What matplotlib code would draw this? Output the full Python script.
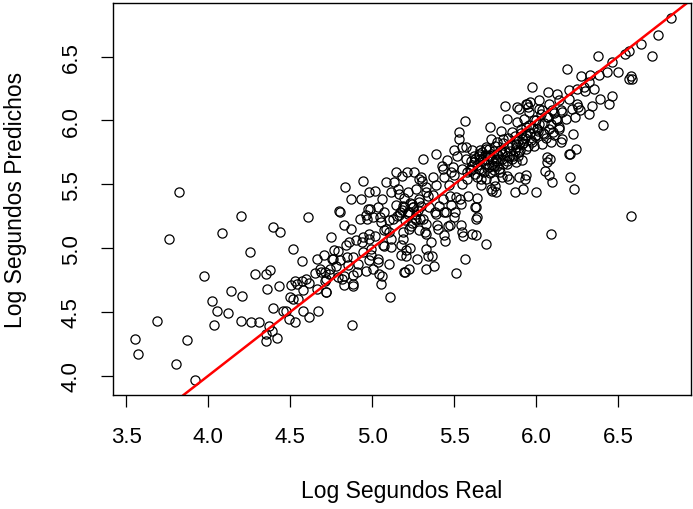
import matplotlib
matplotlib.use('Agg')
import matplotlib.pyplot as plt
import numpy as np

plt.rcParams['font.family'] = ['Liberation Sans', 'DejaVu Sans']

# (log real seconds, log predicted seconds)
sparse_pts = [
    (3.554, 4.287), (3.573, 4.175), (3.688, 4.431), (3.823, 5.442), (3.761, 5.071),
    (3.804, 4.091), (3.869, 4.282), (3.922, 3.969), (3.976, 4.779), (4.025, 4.583),
    (4.033, 4.397), (4.057, 4.509), (4.084, 5.115), (4.121, 4.491), (4.138, 4.661),
    (4.200, 5.254), (4.208, 4.627), (4.200, 4.431), (4.256, 4.967), (4.259, 4.418),
    (4.286, 4.797), (4.312, 4.418), (4.350, 4.797), (4.380, 4.831), (4.361, 4.684),
    (4.393, 5.162), (4.436, 5.129), (4.393, 4.535), (4.374, 4.392), (4.355, 4.274),
    (4.420, 4.300), (4.388, 4.353), (4.434, 4.705), (4.455, 4.509), (4.477, 4.509),
    (4.517, 4.993), (4.530, 4.418), (4.495, 4.444), (4.504, 4.711), (4.541, 4.718),
    (4.517, 4.601), (4.549, 4.601), (4.571, 4.744), (4.571, 4.901), (4.576, 4.509),
    (4.608, 5.241), (4.616, 4.457), (4.616, 4.731), (4.649, 4.803), (4.665, 4.914),
    (4.670, 4.509), (4.665, 4.679), (4.719, 4.658), (4.711, 4.744), (4.711, 4.810),
    (4.684, 4.836), (4.751, 5.084), (4.756, 4.914), (4.738, 4.797), (4.778, 4.862),
    (4.791, 4.980), (4.797, 5.293), (4.805, 5.280), (4.832, 5.476), (4.826, 4.784),
    (4.818, 4.758), (4.845, 4.927), (4.859, 5.050), (4.872, 5.385), (4.872, 5.149),
    (4.886, 4.705), (4.880, 4.397), (4.907, 4.810), (4.926, 5.228), (4.934, 5.385),
    (4.939, 5.045), (4.945, 5.528), (4.966, 5.228), (4.980, 5.442), (4.988, 5.306),
    (4.980, 5.071), (4.993, 4.946), (5.007, 4.836), (5.015, 5.450), (5.020, 5.097),
    (5.034, 4.914), (5.047, 5.241), (5.052, 4.718), (5.060, 5.385), (5.063, 4.784),
    (5.074, 5.019), (5.087, 5.149), (5.101, 5.123), (5.106, 4.614), (5.114, 5.006),
    (5.128, 5.228), (5.136, 5.515), (5.146, 5.594), (5.155, 5.463), (5.168, 5.280),
    (5.182, 5.567), (5.187, 5.071), (5.195, 5.390), (5.203, 4.815), (5.208, 4.940),
    (5.222, 5.280), (5.230, 4.998), (5.235, 5.176), (5.249, 5.319), (5.257, 5.594),
    (5.276, 4.914), (5.289, 5.228), (5.302, 5.528), (5.311, 5.698), (5.321, 5.123),
    (5.329, 4.836), (5.338, 4.940), (5.343, 5.411), (5.356, 5.045), (5.364, 4.940),
    (5.375, 4.862), (5.383, 5.280), (5.391, 5.737), (5.402, 5.149), (5.410, 5.332),
    (5.424, 5.646), (5.437, 5.280), (5.445, 5.058), (5.464, 5.176), (5.472, 5.411),
    (5.477, 5.181), (5.483, 5.594), (5.504, 5.280), (5.512, 4.805), (5.518, 5.724),
    (5.531, 5.907), (5.531, 5.855), (5.537, 5.385), (5.545, 5.123), (5.553, 5.097),
    (5.564, 5.998), (5.564, 4.919), (5.572, 5.789), (5.585, 5.411), (5.599, 5.620),
    (5.626, 5.319), (5.631, 5.228), (5.634, 5.102), (5.639, 5.390), (5.652, 5.724),
    (5.666, 5.541), (5.693, 5.032), (5.693, 5.776), (5.720, 5.946), (5.733, 5.450),
    (5.741, 5.646), (5.746, 5.489), (5.787, 5.920), (5.800, 5.855), (5.813, 6.116),
    (5.822, 5.567), (5.854, 5.907), (5.868, 5.442), (5.881, 6.103), (5.921, 5.463),
    (5.934, 5.541), (5.948, 6.103), (5.962, 6.142), (5.975, 6.260), (5.989, 5.803),
    (6.002, 5.437), (6.015, 6.090), (6.056, 5.607), (6.069, 5.672), (6.083, 5.698),
    (6.091, 5.110), (6.096, 5.515), (6.075, 6.220), (6.150, 5.829), (6.190, 6.403),
    (6.204, 5.554), (6.204, 5.737), (6.231, 5.463), (6.244, 5.776), (6.225, 5.894),
    (6.258, 6.103), (6.271, 6.351), (6.298, 6.234), (6.325, 6.051), (6.339, 6.116),
    (6.352, 6.247), (6.379, 6.508), (6.392, 6.168), (6.406, 5.964), (6.433, 6.377),
    (6.446, 6.129), (6.460, 6.456), (6.460, 6.194), (6.500, 6.377), (6.540, 6.521),
    (6.567, 6.547), (6.581, 6.351), (6.586, 6.325), (6.581, 5.254), (6.642, 6.599),
    (6.707, 6.508), (6.742, 6.670), (6.823, 6.800),
]

lower_mid_pts = [
    (4.355, 4.329), (4.528, 4.739), (4.578, 4.676), (4.497, 4.616), (4.598, 4.760),
]

mid_pts = [
    (5.084, 5.518), (5.210, 5.596), (5.287, 5.539), (5.115, 5.439), (5.165, 5.426),
    (5.216, 5.439), (5.267, 5.466), (5.327, 5.439), (4.973, 5.309), (5.034, 5.322),
    (5.074, 5.283), (4.963, 5.257), (5.003, 5.243), (5.145, 5.335), (5.196, 5.322),
    (5.246, 5.348), (5.287, 5.361), (4.831, 5.178), (5.054, 5.204), (5.105, 5.217),
    (5.165, 5.257), (5.216, 5.270), (5.267, 5.217), (5.307, 5.230), (4.770, 4.982),
    (4.841, 5.021), (4.902, 5.061), (4.942, 5.087), (4.983, 5.113), (5.074, 5.139),
    (5.115, 5.074), (5.186, 5.126), (5.226, 5.152), (5.287, 5.139), (4.709, 4.943),
    (4.760, 4.917), (4.801, 4.904), (4.882, 4.930), (4.942, 4.969), (4.993, 4.995),
    (5.064, 5.021), (5.175, 5.021), (5.327, 4.995), (4.689, 4.812), (4.740, 4.839),
    (4.851, 4.865), (4.912, 4.878), (4.983, 4.904), (5.034, 4.891), (5.105, 4.878),
    (5.175, 4.943), (5.206, 4.982), (5.226, 4.839), (5.196, 4.812), (4.720, 4.760),
    (4.790, 4.773), (4.882, 4.786), (4.963, 4.825), (5.044, 4.799), (4.831, 4.708),
    (4.882, 4.721), (4.720, 4.656),
    (5.150, 5.250), (5.180, 5.300), (5.200, 5.220), (5.220, 5.280), (5.240, 5.200),
    (5.250, 5.320), (5.270, 5.270), (5.280, 5.300), (5.300, 5.330), (5.190, 5.330),
    (5.230, 5.350), (5.260, 5.240),
]

core_pts = [
    (5.885, 5.988), (5.824, 6.014), (5.935, 6.131), (5.500, 5.766), (5.550, 5.792),
    (5.611, 5.766), (5.652, 5.740), (5.692, 5.792), (5.723, 5.857), (5.763, 5.831),
    (5.834, 5.792), (5.875, 5.818), (5.915, 5.857), (5.459, 5.687), (5.571, 5.700),
    (5.621, 5.674), (5.672, 5.687), (5.713, 5.727), (5.753, 5.700), (5.794, 5.740),
    (5.834, 5.713), (5.895, 5.753), (5.935, 5.779), (5.429, 5.622), (5.490, 5.635),
    (5.550, 5.622), (5.601, 5.609), (5.662, 5.609), (5.713, 5.635), (5.773, 5.622),
    (5.824, 5.661), (5.875, 5.674), (5.915, 5.687), (5.297, 5.557), (5.368, 5.557),
    (5.439, 5.557), (5.500, 5.570), (5.581, 5.544), (5.642, 5.557), (5.692, 5.544),
    (5.743, 5.531), (5.794, 5.557), (5.834, 5.544), (5.895, 5.557), (5.328, 5.478),
    (5.388, 5.491), (5.469, 5.491), (5.550, 5.504), (5.662, 5.491), (5.723, 5.465),
    (5.753, 5.439), (5.287, 5.387), (5.368, 5.413), (5.429, 5.387), (5.510, 5.400),
    (5.348, 5.322), (5.480, 5.335), (5.540, 5.348), (5.631, 5.322), (5.388, 5.269),
    (5.449, 5.282), (5.500, 5.243), (5.642, 5.243), (5.328, 5.191), (5.398, 5.178),
    (5.540, 5.178), (5.611, 5.113), (5.328, 5.113), (5.439, 5.100),
    (5.60, 5.68), (5.62, 5.72), (5.64, 5.65), (5.66, 5.70), (5.67, 5.75),
    (5.69, 5.66), (5.70, 5.69), (5.71, 5.78), (5.72, 5.72), (5.73, 5.65),
    (5.74, 5.76), (5.75, 5.80), (5.76, 5.68), (5.77, 5.73), (5.78, 5.77),
    (5.79, 5.70), (5.80, 5.82), (5.81, 5.75), (5.82, 5.68), (5.83, 5.86),
    (5.84, 5.76), (5.85, 5.81), (5.86, 5.72), (5.87, 5.88), (5.88, 5.79),
    (5.89, 5.84), (5.90, 5.77), (5.91, 5.90), (5.92, 5.82), (5.93, 5.86),
    (5.94, 5.95), (5.95, 5.80), (5.96, 5.90), (5.97, 5.85), (5.98, 5.94),
    (5.99, 5.88), (6.00, 6.00), (6.01, 5.92), (6.02, 5.97), (6.03, 6.05),
    (5.58, 5.60), (5.61, 5.64), (5.63, 5.58), (5.65, 5.62), (5.68, 5.60),
    (5.70, 5.63), (5.72, 5.59), (5.74, 5.61), (5.76, 5.64), (5.78, 5.60),
    (5.63, 5.70), (5.66, 5.77), (5.69, 5.73), (5.73, 5.70), (5.76, 5.74),
    (5.80, 5.66), (5.82, 5.72), (5.85, 5.70), (5.87, 5.76), (5.89, 5.72),
    (6.05, 5.98), (6.07, 6.03), (6.09, 5.97), (6.11, 6.06), (6.13, 6.00),
    (6.15, 6.08), (6.04, 5.90), (6.06, 5.86), (6.10, 5.91), (6.14, 5.95),
]

upper_pts = [
    (6.564, 6.327), (6.128, 6.210), (6.199, 6.236), (6.250, 6.249), (6.290, 6.262),
    (6.321, 6.301), (6.331, 6.353), (6.381, 6.353), (5.946, 6.131), (6.017, 6.157),
    (6.077, 6.131), (6.138, 6.157), (6.199, 6.170), (6.250, 6.131), (5.895, 6.092),
    (5.956, 6.066), (6.037, 6.079), (6.098, 6.079), (6.158, 6.066), (6.219, 6.092),
    (6.270, 6.079), (5.925, 6.014), (5.986, 6.001), (6.067, 6.027), (6.118, 6.014),
    (6.179, 6.014), (6.239, 6.027), (5.905, 5.935), (5.956, 5.961), (6.006, 5.935),
    (6.077, 5.935), (6.138, 5.935), (5.936, 5.883), (5.996, 5.883), (6.047, 5.896),
    (6.108, 5.883), (6.158, 5.857), (5.915, 5.818), (5.976, 5.831), (6.037, 5.818),
    (6.088, 5.831), (6.199, 5.739), (6.067, 5.713), (5.936, 5.570), (6.077, 5.570),
]

# reference line y = x
line_intercept = 0.0
line_slope = 1.0

x_ticks = [3.5, 4.0, 4.5, 5.0, 5.5, 6.0, 6.5]
y_ticks = [4.0, 4.5, 5.0, 5.5, 6.0, 6.5]

pts = np.array(sparse_pts + lower_mid_pts + mid_pts + core_pts + upper_pts)
real_log = pts[:, 0]
pred_log = pts[:, 1]

fig = plt.figure(figsize=(6.93, 5.10), dpi=100)
ax = fig.add_axes([113 / 693, 1 - 396 / 510, (691 - 113) / 693, (396 - 4) / 510])

ax.plot(real_log, pred_log, 'o', ms=6.6, mfc='none', mec='black', mew=0.9)
ax.axline((0, line_intercept), slope=line_slope, color='red', lw=1.8)

ax.set_xlim(3.42, 6.944)
ax.set_ylim(3.85, 6.92)
ax.set_xticks(x_ticks)
ax.set_xticklabels(['%.1f' % t for t in x_ticks])
ax.set_yticks(y_ticks)
ax.set_yticklabels(['%.1f' % t for t in y_ticks], rotation=90, va='center')
ax.tick_params(direction='out', length=8.5, width=0.9, labelsize=16, pad=14)
for s in ax.spines.values():
    s.set_linewidth(1.0)

ax.set_xlabel('Log Segundos Real', fontsize=16.5, labelpad=23)
ax.set_ylabel('Log Segundos Predichos', fontsize=16.5, labelpad=24)

fig.savefig('out.png', dpi=100)
